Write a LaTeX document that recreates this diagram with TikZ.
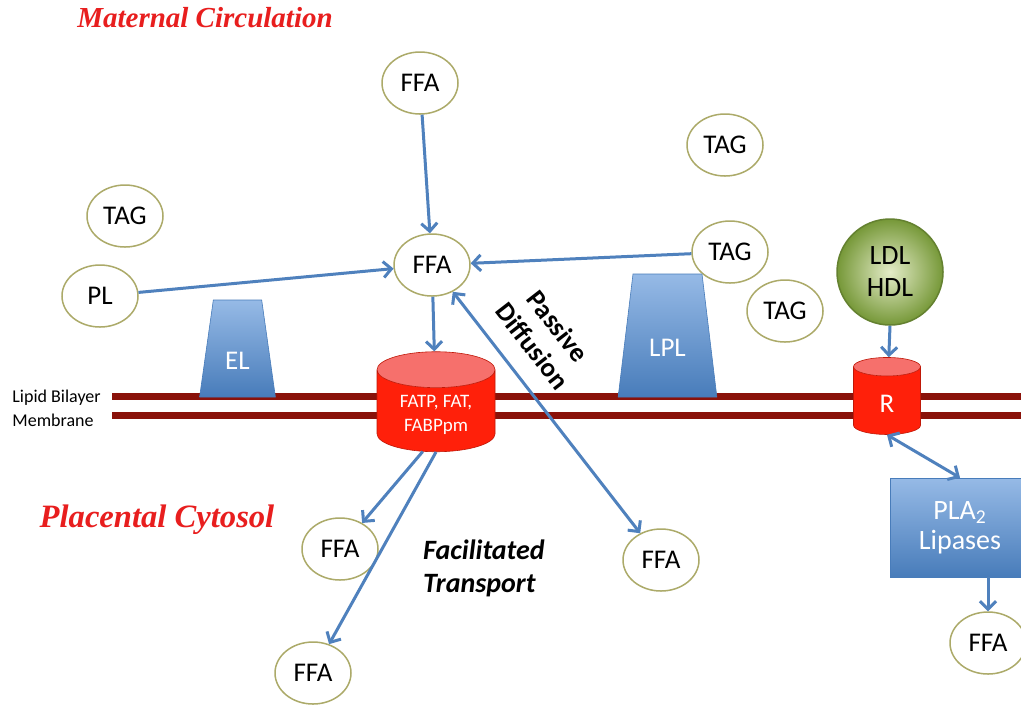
\documentclass[tikz,border=0pt]{standalone}
\usepackage{fontspec}
\setmainfont{Carlito}
\newfontfamily\titlefont{Liberation Serif}
\usetikzlibrary{shapes.geometric,arrows.meta}

\definecolor{flowblue}{RGB}{79,129,189}
\definecolor{ringolive}{RGB}{172,170,105}
\definecolor{membred}{RGB}{138,18,10}
\definecolor{chanred}{RGB}{255,32,10}
\definecolor{chantop}{RGB}{246,112,108}
\definecolor{protlight}{RGB}{150,186,230}
\definecolor{protdark}{RGB}{72,124,186}
\definecolor{lipinner}{RGB}{228,236,200}
\definecolor{lipouter}{RGB}{118,152,56}
\definecolor{titlered}{RGB}{232,30,30}

\tikzset{>={Straight Barb[length=4pt,width=8pt]}}

\begin{document}
\begin{tikzpicture}[x=0.5pt,y=-0.5pt,
    lipid/.style={ellipse, draw=ringolive, line width=0.75pt, fill=white,
        minimum width=38pt, minimum height=31pt, inner sep=0pt,
        font=\fontsize{13.5}{16}\selectfont},
    flow/.style={draw=flowblue, line width=1.5pt},
    enzyme/.style={trapezium, trapezium stretches=true,
        trapezium left angle=79, trapezium right angle=79,
        top color=protlight, bottom color=protdark, draw=protdark, line width=0.3pt,
        text=white, text height=21pt, font=\fontsize{13.5}{16}\selectfont},
    channel/.style={cylinder, shape border rotate=90, cylinder uses custom fill,
        cylinder body fill=chanred, cylinder end fill=chantop,
        draw=chanred!75!black, line width=0.3pt, text=white, align=center},
    membrane/.style={draw=membred, line width=3.5pt},
    title/.style={font=\titlefont\bfseries\itshape\fontsize{14.5}{17}\selectfont, text=titlered},
    note/.style={font=\bfseries\itshape\fontsize{14}{16.5}\selectfont, align=left},
    small/.style={font=\fontsize{9}{11}\selectfont, inner sep=0pt}
]
    \useasboundingbox (0,0) rectangle (1021,709);
    \fill[white] (0,0) rectangle (1021,709);

    % Draw the membrane
    \draw[membrane] (112,396.5) -- (1030,396.5);
    \draw[membrane] (112,415.5) -- (1030,415.5);
    \node[small, anchor=west] (bilayer) at (12,398) {Lipid Bilayer};
    \node[small, anchor=west] (membranetxt) at (12,420) {Membrane};

    % Label the two sides
    \node[title] (maternal) at (205,18) {Maternal Circulation};
    \node[title, font=\titlefont\bfseries\itshape\fontsize{16.3}{18}\selectfont] (placental) at (157,520) {Placental Cytosol};

    % Draw the lipids in the maternal circulation
    \node[lipid] (ffatop) at (420,83) {FFA};
    \node[lipid] (tagtop) at (725,145) {TAG};
    \node[lipid] (tagleft) at (125,216) {TAG};
    \node[lipid] (pl) at (100,296) {PL};
    \node[lipid] (ffa) at (432,265) {FFA};
    \node[lipid] (tagmid) at (730,252) {TAG};
    \node[lipid] (taglow) at (785,311) {TAG};
    \node[circle, draw=lipouter!85!black, line width=0.75pt, inner color=lipinner, outer color=lipouter,
        minimum size=53pt, align=center, font=\fontsize{14}{16}\selectfont] (lipo) at (890,272) {LDL\\HDL};

    % Draw the lipases and the carriers
    \node[enzyme, minimum width=38pt, minimum height=48.5pt] (el) at (237.5,348.5) {EL};
    \node[enzyme, minimum width=49.5pt, minimum height=61.5pt] (lpl) at (667.5,335.5) {LPL};
    \node[channel, minimum width=59pt, minimum height=50pt, aspect=0.42,
        font=\fontsize{9.5}{11.7}\selectfont] (fatp) at (436,415) {FATP, FAT,\\FABPpm};
    \node[channel, minimum width=33.5pt, minimum height=38.5pt, aspect=0.66,
        font=\fontsize{13.5}{16}\selectfont] (r) at (887,403.5) {R};
    \node[rectangle, top color=protlight, bottom color=protdark, draw=protdark, line width=0.3pt,
        minimum width=70pt, minimum height=49.5pt, text=white, align=center,
        font=\fontsize{14}{15}\selectfont] (pla) at (960,527.5) {PLA\textsubscript{2}\\Lipases};

    % Draw the lipids in the placental cytosol
    \node[lipid] (ffaleft) at (340,549) {FFA};
    \node[lipid] (ffabottom) at (313,673) {FFA};
    \node[lipid] (ffaright) at (661,560) {FFA};
    \node[lipid] (ffapla) at (988,643) {FFA};
    \node[note, anchor=west] (facil) at (416,568) {Facilitated\\Transport};

    % Draw the arrows
    \draw[flow,->] (ffatop) -- (ffa);
    \draw[flow,->] (pl) -- (ffa);
    \draw[flow,->] (tagmid) -- (ffa);
    \draw[flow,->] (ffa) -- (fatp);
    \draw[flow,->] (fatp.250) -- (ffaleft);
    \draw[flow,->] (fatp.south) -- (ffabottom);
    \draw[flow,<->] (ffa) -- (ffaright)
    node[sloped, above=6pt, pos=0.3, align=center, text=black,
        font=\bfseries\fontsize{13.5}{16}\selectfont] (passive) {Passive\\Diffusion};
    \draw[flow,->] (lipo.south) -- (r);
    \draw[flow,<->] (r.south) -- (pla.north);
    \draw[flow,->] (pla.south -| ffapla) -- (ffapla);
\end{tikzpicture}
\end{document}
